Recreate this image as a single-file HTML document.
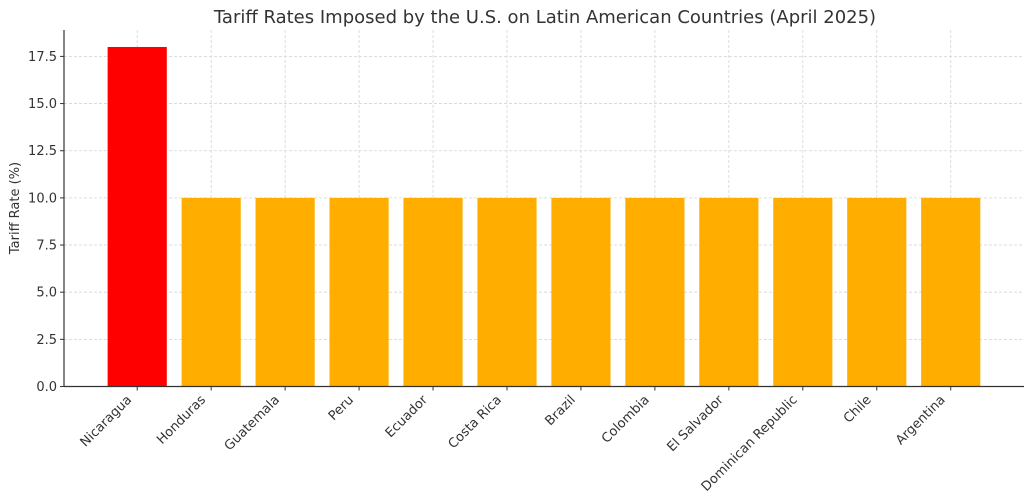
<!DOCTYPE html>
<html><head><meta charset="utf-8"><style>
html,body{margin:0;padding:0;background:#fff;}
svg{display:block;font-family:"DejaVu Sans","Liberation Sans",sans-serif;}
</style></head><body>
<svg id="chart" width="1024" height="504" viewBox="0 0 1024 504">
<text x="545" y="23" text-anchor="middle" font-size="18" fill="#333">Tariff Rates Imposed by the U.S. on Latin American Countries (April 2025)</text>
<text transform="translate(19,208) rotate(-90)" text-anchor="middle" font-size="13" fill="#333">Tariff Rate (%)</text>
<g id="grid"></g><g id="bars"></g><g id="axes"></g>
</svg>
<script>
const categories=["Nicaragua","Honduras","Guatemala","Peru","Ecuador","Costa Rica","Brazil","Colombia","El Salvador","Dominican Republic","Chile","Argentina"];
const values=[18,10,10,10,10,10,10,10,10,10,10,10];
const barColors=["#ff0000","#ffae00","#ffae00","#ffae00","#ffae00","#ffae00","#ffae00","#ffae00","#ffae00","#ffae00","#ffae00","#ffae00"];
const yTicks=[0,2.5,5,7.5,10,12.5,15,17.5];
const yTickLabels=["0.0","2.5","5.0","7.5","10.0","12.5","15.0","17.5"];
const NS="http://www.w3.org/2000/svg";
const x0=64,x1=1024,yBot=386.5,yTop=30;
const ymax=Math.max(...values)*1.05;
const n=categories.length;
const xmin=-0.4-0.05*(n-0.2);
const step=(950.5-137)/11;
function xScale(i){return x0+(i-xmin)*step;}
function yScale(v){return yBot-(v/ymax)*(yBot-yTop);}
function mk(t,a,p){const e=document.createElementNS(NS,t);for(const k in a)e.setAttribute(k,a[k]);p.appendChild(e);return e;}
const grid=document.getElementById('grid'),bars=document.getElementById('bars'),axes=document.getElementById('axes');
yTicks.forEach((t,i)=>{
 const y=yScale(t);
 const g=mk('line',{x1:x0,x2:x1,y1:y,y2:y,stroke:'#d4d4d4','stroke-width':0.8,'stroke-dasharray':'3,2'},grid);
 
 
 const tk=mk('line',{x1:x0-4,x2:x0,y1:y,y2:y,stroke:'#333','stroke-width':1},axes);
 
 
 const lb=mk('text',{x:x0-7,y:y+4.5,'text-anchor':'end','font-size':13,fill:'#333'},axes);
 lb.textContent=yTickLabels[i];
 
 
});
categories.forEach((c,i)=>{
 const cx=xScale(i),w=0.8*step;
 const g=mk('line',{x1:cx,x2:cx,y1:yTop,y2:yBot,stroke:'#d4d4d4','stroke-width':0.8,'stroke-dasharray':'3,2'},grid);
 
 
 const r=mk('rect',{x:cx-w/2,y:yScale(values[i]),width:w,height:yBot-yScale(values[i]),fill:barColors[i]},bars);
 
 
 const tk=mk('line',{x1:cx,x2:cx,y1:yBot,y2:yBot+4,stroke:'#333','stroke-width':1},axes);
 
 
 const lb=mk('text',{transform:`translate(${cx-5},${yBot+14}) rotate(-45)`,'text-anchor':'end','font-size':13,fill:'#333'},axes);
 lb.textContent=c;
 
 
});
const ly=mk('line',{x1:x0,x2:x0,y1:yTop,y2:yBot,stroke:'#333','stroke-width':1.2},axes);


const lx=mk('line',{x1:x0,x2:x1,y1:yBot,y2:yBot,stroke:'#333','stroke-width':1.2},axes);


</script>
</body></html>
